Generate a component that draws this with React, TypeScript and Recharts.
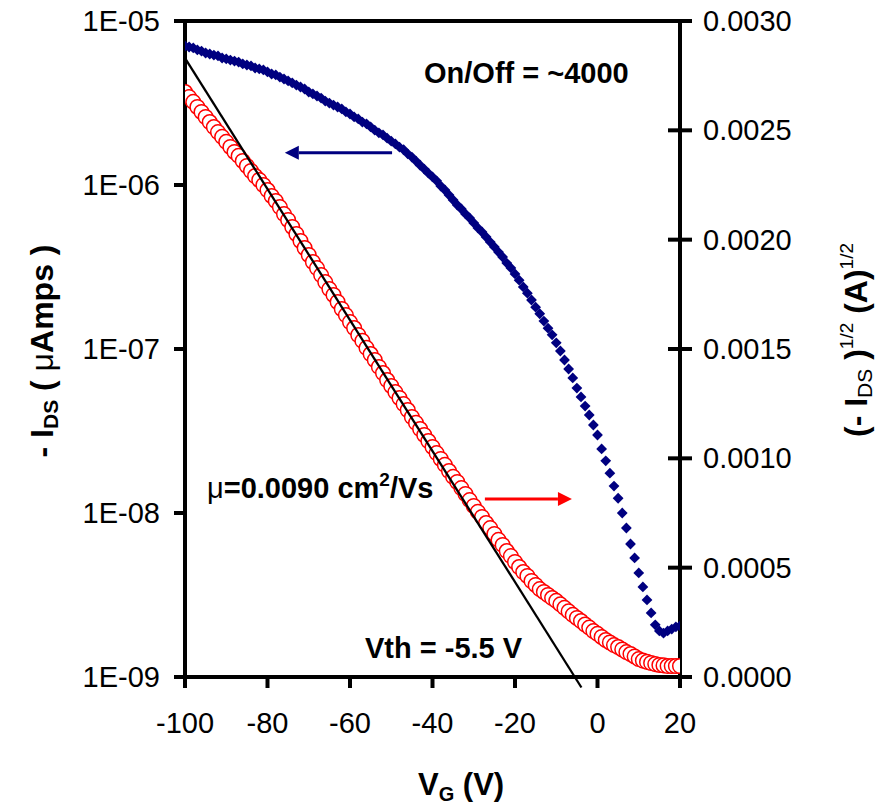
import React from "react";
import { ComposedChart, Scatter, XAxis, YAxis, ReferenceLine } from "recharts";

const FONT = '"Liberation Sans", Arial, Helvetica, sans-serif';
const NAVY = "#000080";
const RED = "#ff0000";

// plot box inside the 882 x 804 chart
const LEFT = 185;
const RIGHT = 680;
const BOTTOM = 677;

// gate sweep, 1 V steps
const gateVoltage = [
  -100, -99, -98, -97, -96, -95, -94, -93, -92, -91,
  -90, -89, -88, -87, -86, -85, -84, -83, -82, -81,
  -80, -79, -78, -77, -76, -75, -74, -73, -72, -71,
  -70, -69, -68, -67, -66, -65, -64, -63, -62, -61,
  -60, -59, -58, -57, -56, -55, -54, -53, -52, -51,
  -50, -49, -48, -47, -46, -45, -44, -43, -42, -41,
  -40, -39, -38, -37, -36, -35, -34, -33, -32, -31,
  -30, -29, -28, -27, -26, -25, -24, -23, -22, -21,
  -20, -19, -18, -17, -16, -15, -14, -13, -12, -11,
  -10, -9, -8, -7, -6, -5, -4, -3, -2, -1,
  0, 1, 2, 3, 4, 5, 6, 7, 8, 9,
  10, 11, 12, 13, 14, 15, 16, 17, 18, 19,
  20,
];

// -I_DS, log axis
const drainCurrent = [
  7.04e-6, 6.94e-6, 6.85e-6, 6.66e-6, 6.56e-6, 6.38e-6, 6.29e-6, 6.2e-6, 6.12e-6, 5.95e-6,
  5.87e-6, 5.78e-6, 5.7e-6, 5.62e-6, 5.47e-6, 5.39e-6, 5.32e-6, 5.17e-6, 5.1e-6, 5.03e-6,
  4.89e-6, 4.75e-6, 4.69e-6, 4.55e-6, 4.43e-6, 4.31e-6, 4.19e-6, 4.07e-6, 3.96e-6, 3.85e-6,
  3.69e-6, 3.59e-6, 3.49e-6, 3.39e-6, 3.25e-6, 3.16e-6, 3.07e-6, 2.99e-6, 2.91e-6, 2.79e-6,
  2.71e-6, 2.6e-6, 2.53e-6, 2.42e-6, 2.36e-6, 2.26e-6, 2.16e-6, 2.08e-6, 2.02e-6, 1.93e-6,
  1.85e-6, 1.78e-6, 1.7e-6, 1.64e-6, 1.55e-6, 1.48e-6, 1.4e-6, 1.32e-6, 1.25e-6, 1.18e-6,
  1.12e-6, 1.06e-6, 9.86e-7, 9.32e-7, 8.69e-7, 8.1e-7, 7.55e-7, 7.14e-7, 6.66e-7, 6.29e-7,
  5.87e-7, 5.47e-7, 5.17e-7, 4.82e-7, 4.49e-7, 4.19e-7, 3.9e-7, 3.64e-7, 3.34e-7, 3.12e-7,
  2.87e-7, 2.63e-7, 2.39e-7, 2.19e-7, 1.99e-7, 1.8e-7, 1.64e-7, 1.48e-7, 1.34e-7, 1.22e-7,
  1.09e-7, 9.72e-8, 8.57e-8, 7.55e-8, 6.66e-8, 5.78e-8, 5.1e-8, 4.49e-8, 3.96e-8, 3.44e-8,
  2.99e-8, 2.46e-8, 2.08e-8, 1.75e-8, 1.46e-8, 1.23e-8, 1.0e-8, 8.1e-9, 6.47e-9, 5.32e-9,
  4.31e-9, 3.54e-9, 2.95e-9, 2.46e-9, 2.08e-9, 1.91e-9, 1.85e-9, 1.91e-9, 1.96e-9, 2.02e-9,
  2.05e-9,
];

// (-I_DS)^1/2, linear axis
const sqrtDrainCurrent = [
  0.002675, 0.002652, 0.00263, 0.002607, 0.002584, 0.002561, 0.002538, 0.002515, 0.002492, 0.00247,
  0.002447, 0.002424, 0.002401, 0.002383, 0.00236, 0.002337, 0.002314, 0.002291, 0.002273, 0.00225,
  0.002227, 0.0022, 0.002177, 0.002149, 0.002117, 0.00209, 0.002058, 0.002026, 0.001994, 0.001962,
  0.00193, 0.001898, 0.00187, 0.001838, 0.001806, 0.001774, 0.001747, 0.001715, 0.001683, 0.001655,
  0.001623, 0.001596, 0.001564, 0.001537, 0.001505, 0.001477, 0.00145, 0.001418, 0.00139, 0.001358,
  0.001331, 0.001303, 0.001276, 0.001248, 0.001221, 0.001189, 0.001162, 0.001134, 0.001107, 0.001079,
  0.001052, 0.001024, 0.000997, 0.00097, 0.000942, 0.000915, 0.000892, 0.000864, 0.000837, 0.000809,
  0.000782, 0.000755, 0.000732, 0.000704, 0.000681, 0.000654, 0.000627, 0.000604, 0.000576, 0.000553,
  0.000526, 0.000503, 0.00048, 0.000462, 0.000439, 0.000421, 0.000402, 0.000389, 0.000375, 0.000361,
  0.000348, 0.000332, 0.000316, 0.0003, 0.000284, 0.00027, 0.000256, 0.00024, 0.000226, 0.00021,
  0.000197, 0.000183, 0.000169, 0.000158, 0.000146, 0.000137, 0.000126, 0.000114, 0.000105, 0.000094,
  0.000082, 0.000075, 0.000069, 0.000064, 0.000059, 0.000055, 0.000053, 0.00005, 0.00005, 0.00005,
  0.00005,
];

// linear fit through the saturation region, Vth = -5.5 V
const fitVoltage = [-100, -3.9];
const fitSqrtCurrent = [0.00283, -0.000048];

// annotation arrows: [tail V, tip V, level]
const leftArrow = [-49.8, -75.8, 1.57e-6];
const rightArrow = [-27.3, -6.2, 0.000814];

const vgTicks = [-100, -80, -60, -40, -20, 0, 20];
const idsTicks = [1e-9, 1e-8, 1e-7, 1e-6, 1e-5];
const sqrtTicks = [0, 0.0005, 0.001, 0.0015, 0.002, 0.0025, 0.003];

const blueData = gateVoltage.map((v, i) => ({ vg: v, ids: drainCurrent[i] }));
const redData = gateVoltage.map((v, i) => ({ vg: v, sqrtIds: sqrtDrainCurrent[i] }));

const expLabel = (v: number) => {
  const e = Math.round(Math.log10(v));
  return `1E-${String(-e).padStart(2, "0")}`;
};

const Diamond = (p: any) => {
  const { cx, cy } = p;
  const r = 5.4;
  return (
    <polygon
      points={`${cx},${cy - r} ${cx + r},${cy} ${cx},${cy + r} ${cx - r},${cy}`}
      fill={NAVY}
    />
  );
};

const OpenCircle = (p: any) => (
  <circle cx={p.cx} cy={p.cy} r={7.3} fill="#fff" stroke={RED} strokeWidth={1.5} />
);

const arrowShape = (color: string) => (p: any) => {
  const { x1, y1, x2, y2 } = p;
  const dir = Math.sign(x2 - x1);
  const head = 14;
  const half = 7;
  return (
    <g>
      <line x1={x1} y1={y1} x2={x2 - dir * head} y2={y2} stroke={color} strokeWidth={3} />
      <polygon
        points={`${x2},${y2} ${x2 - dir * head},${y2 - half} ${x2 - dir * head},${y2 + half}`}
        fill={color}
      />
    </g>
  );
};

const tickText = { fontFamily: FONT, fontSize: 29, fill: "#000" };

const LeftTick = ({ payload }: any) => {
  const y = payload.coordinate;
  return (
    <g>
      <line x1={LEFT - 11} x2={LEFT} y1={y} y2={y} stroke="#000" strokeWidth={4} />
      <text x={LEFT - 25} y={y + 10} textAnchor="end" {...tickText}>
        {expLabel(payload.value)}
      </text>
    </g>
  );
};

const RightTick = ({ payload }: any) => {
  const y = payload.coordinate;
  return (
    <g>
      <line x1={RIGHT - 12} x2={RIGHT + 12} y1={y} y2={y} stroke="#000" strokeWidth={4} />
      <text x={RIGHT + 23} y={y + 10} textAnchor="start" {...tickText}>
        {Number(payload.value).toFixed(4)}
      </text>
    </g>
  );
};

const BottomTick = ({ payload }: any) => {
  const x = payload.coordinate;
  return (
    <g>
      <line x1={x} x2={x} y1={BOTTOM} y2={BOTTOM + 11} stroke="#000" strokeWidth={4} />
      <text x={x} y={733} textAnchor="middle" {...tickText}>
        {payload.value}
      </text>
    </g>
  );
};

const bold = { fontFamily: FONT, fontWeight: "bold" as const, fontSize: 29, fill: "#000" };

const Annotations = () => (
  <svg
    width={882}
    height={804}
    style={{ position: "absolute", left: 0, top: 0, pointerEvents: "none" }}
  >
    <text x={424} y={83} {...bold}>On/Off = ~4000</text>
    <text x={207} y={498} {...bold}>
      <tspan fontWeight="normal">μ</tspan>=0.0090 cm
      <tspan fontSize={19} dy={-12}>2</tspan>
      <tspan dy={12}>/Vs</tspan>
    </text>
    <text x={365} y={658} {...bold}>Vth = -5.5 V</text>

    {/* axis titles */}
    <text x={418} y={795} {...bold} fontSize={31}>
      V<tspan fontSize={20} dy={6}>G</tspan>
      <tspan dy={-6}> (V)</tspan>
    </text>
    <text transform="translate(53, 351) rotate(-90)" textAnchor="middle" {...bold} fontSize={32}>
      - I<tspan fontSize={21} dy={5}>DS</tspan>
      <tspan dy={-5}> ( </tspan>
      <tspan fontWeight="normal">μ</tspan>Amps )
    </text>
    <text transform="translate(867, 340) rotate(-90)" textAnchor="middle" {...bold} fontSize={32}>
      (- I<tspan fontSize={21} fontWeight="normal" dy={5}>DS</tspan>
      <tspan dy={-5}> )</tspan>
      <tspan fontSize={19} fontWeight="normal" dy={-14}>1/2</tspan>
      <tspan dy={14}> (A)</tspan>
      <tspan fontSize={19} fontWeight="normal" dy={-14}>1/2</tspan>
    </text>
  </svg>
);

export default function App() {
  return (
    <div
      style={{
        position: "absolute",
        left: 0,
        top: 0,
        width: 882,
        height: 804,
        background: "#fff",
      }}
    >
      <ComposedChart width={882} height={804} margin={{ top: 21, right: 0, bottom: 0, left: 0 }}>
        <XAxis
          dataKey="vg"
          type="number"
          domain={[-100, 20]}
          ticks={vgTicks}
          interval={0}
          allowDataOverflow
          height={127}
          axisLine={{ stroke: "#000", strokeWidth: 4 }}
          tickLine={false}
          tick={<BottomTick />}
        />
        <YAxis
          yAxisId="left"
          orientation="left"
          scale="log"
          domain={[1e-9, 1e-5]}
          ticks={idsTicks}
          interval={0}
          allowDataOverflow
          width={185}
          axisLine={{ stroke: "#000", strokeWidth: 4 }}
          tickLine={false}
          tick={<LeftTick />}
        />
        <YAxis
          yAxisId="right"
          orientation="right"
          type="number"
          domain={[0, 0.003]}
          ticks={sqrtTicks}
          interval={0}
          allowDataOverflow
          width={202}
          axisLine={{ stroke: "#000", strokeWidth: 4 }}
          tickLine={false}
          tick={<RightTick />}
        />

        <Scatter
          data={redData}
          dataKey="sqrtIds"
          yAxisId="right"
          shape={OpenCircle}
          isAnimationActive={false}
        />
        <Scatter
          data={blueData}
          dataKey="ids"
          yAxisId="left"
          shape={Diamond}
          isAnimationActive={false}
        />

        {/* top frame */}
        <ReferenceLine y={1e-5} yAxisId="left" stroke="#000" strokeWidth={4} ifOverflow="visible" />

        <ReferenceLine
          yAxisId="right"
          ifOverflow="visible"
          zIndex={700}
          stroke="#000"
          strokeWidth={2.3}
          segment={[
            { x: fitVoltage[0], y: fitSqrtCurrent[0] },
            { x: fitVoltage[1], y: fitSqrtCurrent[1] },
          ]}
        />
        <ReferenceLine
          yAxisId="left"
          ifOverflow="visible"
          zIndex={700}
          shape={arrowShape(NAVY)}
          segment={[
            { x: leftArrow[0], y: leftArrow[2] },
            { x: leftArrow[1], y: leftArrow[2] },
          ]}
        />
        <ReferenceLine
          yAxisId="right"
          ifOverflow="visible"
          zIndex={700}
          shape={arrowShape(RED)}
          segment={[
            { x: rightArrow[0], y: rightArrow[2] },
            { x: rightArrow[1], y: rightArrow[2] },
          ]}
        />
      </ComposedChart>
      <Annotations />
    </div>
  );
}
